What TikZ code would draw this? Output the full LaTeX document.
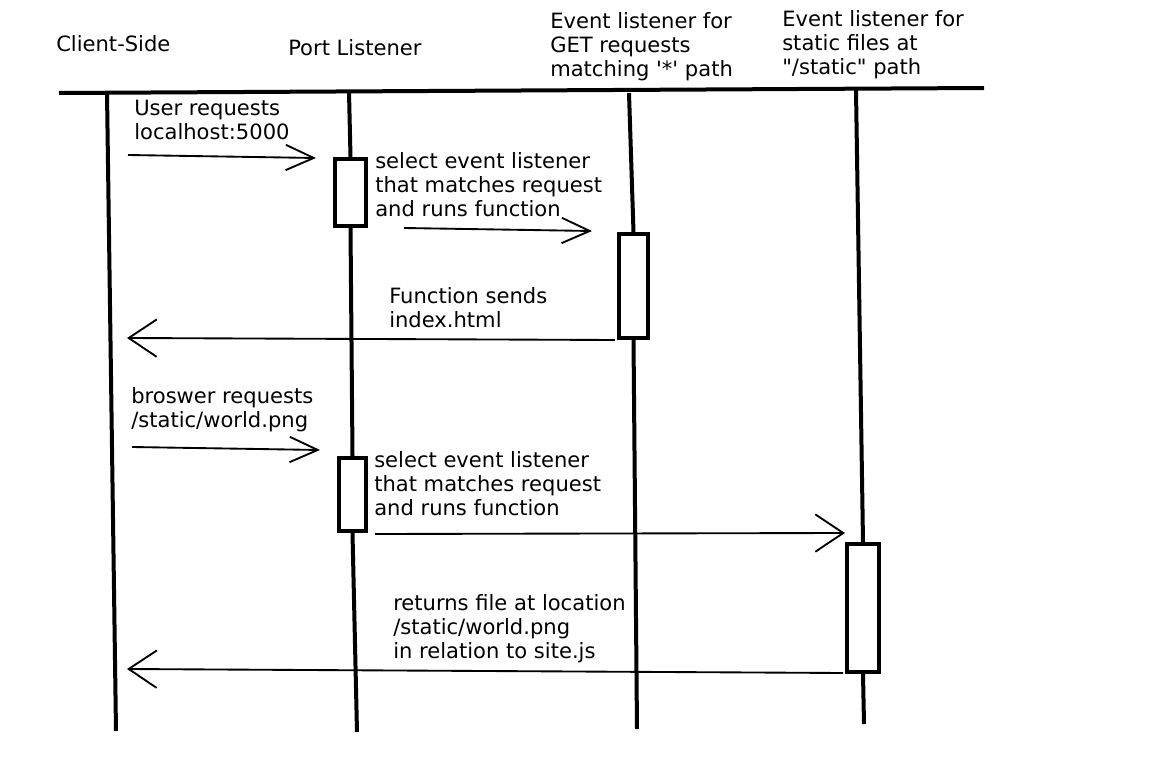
\documentclass[tikz,border=0pt]{standalone}
\usepackage{fontspec}
\setmainfont{DejaVu Sans}[Ligatures=TeXOff]
\usetikzlibrary{arrows.meta}

\tikzset{
  lifeline/.style={line width=3pt},
  actbox/.style={draw,line width=3pt,minimum width=#1,inner sep=0pt,fill=white},
  msg/.style={line width=1.4pt,-{Straight Barb[length=21pt,width=#1,line width=1.4pt]}},
  msg/.default=28pt,
  lbl/.style={anchor=north west,inner sep=0pt,align=left,font=\fontsize{15.8pt}{18pt}\selectfont}
}

\begin{document}
\begin{tikzpicture}[x=0.75pt,y=-0.75pt]
		\useasboundingbox (0,0) rectangle (1172,781);
		% headers
		\node[lbl] (hclient) at (56,35) {Client-Side};
		\node[lbl] (hport) at (288,39) {Port Listener};
		\node[lbl] (hget) at (550,12) {Event listener for\\GET requests\\matching '*' path};
		\node[lbl] (hstatic) at (782,10) {Event listener for\\static files at\\"/static" path};
		\draw[line width=3pt] (59,93) -- (984,88);
		% activation boxes
		\node[actbox=23pt,minimum height=50pt] (act1) at (350.5,192.5) {};
		\node[actbox=22pt,minimum height=78pt] (act2) at (633.5,286) {};
		\node[actbox=20pt,minimum height=55pt] (act3) at (352.5,494.5) {};
		\node[actbox=24pt,minimum height=96pt] (act4) at (863,608) {};
		% lifelines
		\coordinate (c0) at (107,93);
		\coordinate (c1) at (116,731);
		\coordinate (p0) at (349,92);
		\coordinate (p1) at (357,732);
		\coordinate (g0) at (629,93);
		\coordinate (g1) at (637,729);
		\coordinate (s0) at (856,90);
		\coordinate (s1) at (864,724);
		\draw[lifeline] (c0) -- (c1);
		\draw[lifeline] (p0) -- (act1.north) (act1.south) -- (act3.north) (act3.south) -- (p1);
		\draw[lifeline] (g0) -- (act2.north) (act2.south) -- (g1);
		\draw[lifeline] (s0) -- (act4.north) (act4.south) -- (s1);
		% messages
		\coordinate (m1a) at (128,155); \coordinate (m1b) at (316,158);
		\coordinate (m2a) at (404,228); \coordinate (m2b) at (592,231);
		\coordinate (m3b) at (127,338);
		\coordinate (m4a) at (132,447); \coordinate (m4b) at (320,450);
		\coordinate (m5a) at (375,534); \coordinate (m5b) at (845,533);
		\coordinate (m6b) at (127,669);
		\draw[msg=19pt] (m1a) -- (m1b);
		\draw[msg=19pt] (m2a) -- (m2b);
		\draw[msg] (act2.south west) ++(-2,0) -- (m3b);
		\draw[msg=19pt] (m4a) -- (m4b);
		\draw[msg] (m5a) -- (m5b);
		\draw[msg] (act4.south west) ++(-2,-1) -- (m6b);
		% labels
		\node[lbl] (l1) at (134,100) {User requests\\localhost:5000};
		\node[lbl] (l2) at (375,152) {select event listener\\that matches request\\and runs function};
		\node[lbl] (l3) at (389,287) {Function sends\\index.html};
		\node[lbl] (l4) at (131,387) {broswer requests\\/static/world.png};
		\node[lbl] (l5) at (374,451) {select event listener\\that matches request\\and runs function};
		\node[lbl] (l6) at (393,594) {returns file at location\\/static/world.png\\in relation to site.js};
\end{tikzpicture}
\end{document}
